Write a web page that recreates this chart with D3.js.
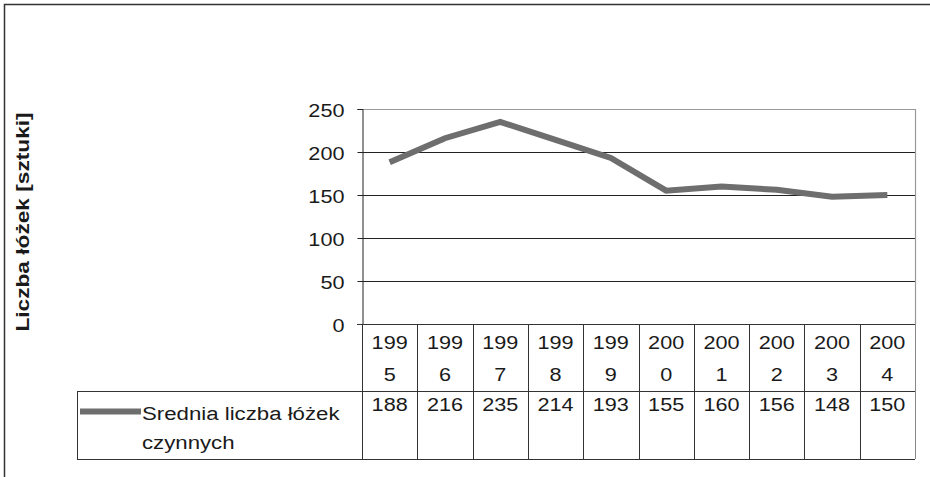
<!DOCTYPE html>
<html lang="pl">
<head>
  <meta charset="UTF-8">
  <title>Liczba łóżek</title>
  <script src="https://d3js.org/d3.v7.min.js"></script>
  <style>
    body { margin: 0; background: #fff; }
    svg { display: block; font-family: "Liberation Sans", Arial, sans-serif; }
    text { fill: #1a1a1a; }
  </style>
</head>
<body>
  <svg width="930" height="477"></svg>
  <script>
    const years = ["1995", "1996", "1997", "1998", "1999", "2000", "2001", "2002", "2003", "2004"];
    const values = [188, 216, 235, 214, 193, 155, 160, 156, 148, 150];
    const yTicks = [0, 50, 100, 150, 200, 250];
    const seriesName = ["Srednia liczba łóżek", "czynnych"];
    const yTitle = "Liczba łóżek [sztuki]";

    const svg = d3.select("svg");
    const plot = {left: 362, right: 915, top: 109, bottom: 324};
    const rowYear = 391, rowData = 459, legendLeft = 77;
    const lineColor = "#6e6e6e";
    const sx = 1.14;

    const x = d3.scaleBand().domain(years).range([plot.left, plot.right]);
    const y = d3.scaleLinear().domain([0, 250]).range([plot.bottom, plot.top]);

    // outer frame (only top and left visible)
    svg.append("path")
      .attr("d", `M4.5,477V4.5H930`)
      .attr("fill", "none").attr("stroke", "#333").attr("stroke-width", 1.5);

    // grid lines
    svg.append("g").selectAll("line")
      .data(yTicks.filter(d => d > 0 && d < 250))
      .join("line")
      .attr("x1", plot.left).attr("x2", plot.right)
      .attr("y1", d => Math.round(y(d)) + 0.5).attr("y2", d => Math.round(y(d)) + 0.5)
      .attr("stroke", "#222");

    // plot border top/right (gray)
    svg.append("path")
      .attr("d", `M${plot.left},${y(250) + 0.5}H${plot.right + 0.5}V${plot.bottom}`)
      .attr("fill", "none").attr("stroke", "#999").attr("stroke-width", 1.2);

    // y axis
    const yAxis = svg.append("g")
      .attr("transform", `translate(${plot.left + 0.5},0)`)
      .call(d3.axisLeft(y).tickValues(yTicks).tickSize(5).tickPadding(0).tickFormat(d3.format("d")));
    yAxis.select(".domain").attr("stroke", "#222");
    yAxis.selectAll(".tick line").attr("stroke", "#222");
    yAxis.selectAll(".tick text")
      .attr("x", null).attr("dy", null)
      .attr("font-size", 19).attr("fill", "#1a1a1a")
      .attr("text-anchor", "end")
      .attr("transform", `translate(-18,7) scale(${sx},1)`);

    // table lines
    const tbl = svg.append("g").attr("stroke", "#333").attr("fill", "none");
    tbl.append("line").attr("x1", plot.left - 5).attr("x2", plot.right)
      .attr("y1", plot.bottom + 0.5).attr("y2", plot.bottom + 0.5);
    tbl.append("line").attr("x1", legendLeft).attr("x2", plot.right)
      .attr("y1", rowYear + 0.5).attr("y2", rowYear + 0.5);
    tbl.append("line").attr("x1", legendLeft).attr("x2", plot.right)
      .attr("y1", rowData + 0.5).attr("y2", rowData + 0.5);
    tbl.append("line").attr("x1", legendLeft + 0.5).attr("x2", legendLeft + 0.5)
      .attr("y1", rowYear).attr("y2", rowData);
    tbl.selectAll(".col")
      .data(years.concat(["end"]))
      .join("line")
      .attr("class", "col")
      .attr("x1", (d, i) => Math.round(plot.left + i * x.bandwidth()) + 0.5)
      .attr("x2", (d, i) => Math.round(plot.left + i * x.bandwidth()) + 0.5)
      .attr("y1", plot.bottom).attr("y2", rowData)
      .attr("stroke", (d, i) => i === years.length ? "#888" : "#333");

    // year labels (wrapped like the original)
    const yl = svg.append("g").selectAll("g").data(years).join("g");
    yl.append("text")
      .attr("text-anchor", "middle").attr("font-size", 19)
      .attr("transform", d => `translate(${x(d) + x.bandwidth() / 2},349) scale(${sx},1)`)
      .text(d => d.slice(0, 3));
    yl.append("text")
      .attr("text-anchor", "middle").attr("font-size", 19)
      .attr("transform", d => `translate(${x(d) + x.bandwidth() / 2},381) scale(${sx},1)`)
      .text(d => d.slice(3));

    // value cells
    svg.append("g").selectAll("text")
      .data(values)
      .join("text")
      .attr("text-anchor", "middle").attr("font-size", 19)
      .attr("transform", (d, i) => `translate(${x(years[i]) + x.bandwidth() / 2},411) scale(${sx},1)`)
      .text(d => d);

    // series line
    const line = d3.line()
      .x((d, i) => x(years[i]) + x.bandwidth() / 2)
      .y(d => y(d));
    svg.append("path")
      .datum(values)
      .attr("d", line)
      .attr("fill", "none")
      .attr("stroke", lineColor)
      .attr("stroke-width", 6)
      .attr("stroke-linejoin", "miter");

    // legend
    svg.append("line")
      .attr("x1", 80).attr("x2", 141).attr("y1", 411.5).attr("y2", 411.5)
      .attr("stroke", lineColor).attr("stroke-width", 6);
    svg.append("g").selectAll("text")
      .data(seriesName)
      .join("text")
      .attr("font-size", 19)
      .attr("transform", (d, i) => `translate(142,${420 + i * 29}) scale(1.17,1)`)
      .text(d => d);

    // y title
    svg.append("text")
      .attr("text-anchor", "middle")
      .attr("font-size", 18).attr("font-weight", "bold")
      .attr("transform", `translate(29,222) rotate(-90) scale(1.26,1)`)
      .text(yTitle);
  </script>
</body>
</html>
